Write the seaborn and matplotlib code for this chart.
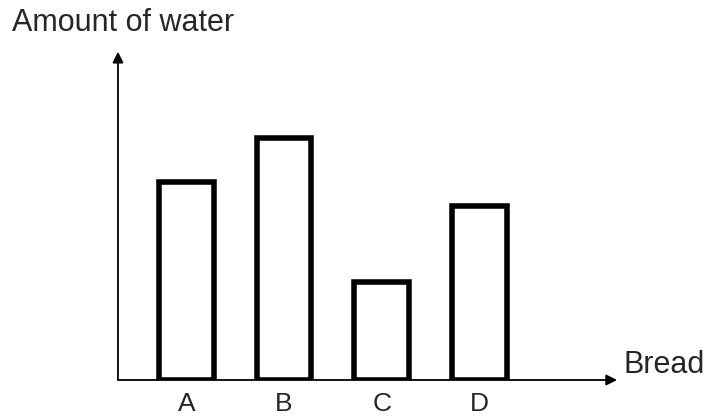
import pandas as pd
import matplotlib.pyplot as plt
import seaborn as sns

# --- DATA ---
breads = ["A", "B", "C", "D"]
water = [6.1, 7.45, 3.0, 5.35]

sns.set_style("white")
plt.rcParams['font.family'] = ['Liberation Sans', 'DejaVu Sans']

df = pd.DataFrame({"Bread": breads, "Water": water})

fig = plt.figure(figsize=(7.12, 4.19), dpi=100)
ax = fig.add_axes([0.1657, 0.0931, 0.701, 0.7757])

sns.barplot(data=df, x="Bread", y="Water", ax=ax, width=0.56,
            color="white", edgecolor="black", linewidth=4, saturation=1)

ax.set_xlim(-0.70, 4.41)
ax.set_ylim(0, 10)

for s in ax.spines.values():
    s.set_visible(False)
ax.set_yticks([])
ax.set_xlabel("")
ax.set_ylabel("")
ax.tick_params(axis="x", length=0, pad=9, labelsize=19)

# axis arrows
ax.annotate("", xy=(0, 1.01), xytext=(0, 0), xycoords="axes fraction",
            arrowprops=dict(arrowstyle="-|>", color="black", lw=1.3,
                            mutation_scale=16, shrinkA=0, shrinkB=0))
ax.annotate("", xy=(1.0, 0), xytext=(0, 0), xycoords="axes fraction",
            arrowprops=dict(arrowstyle="-|>", color="black", lw=1.3,
                            mutation_scale=16, shrinkA=0, shrinkB=0))

fig.text(12 / 712, 1 - 31 / 419, "Amount of water", fontsize=22, ha="left", va="baseline")
fig.text(623 / 712, 1 - 373 / 419, "Bread", fontsize=22, ha="left", va="baseline")

fig.savefig("out.png", dpi=100)
